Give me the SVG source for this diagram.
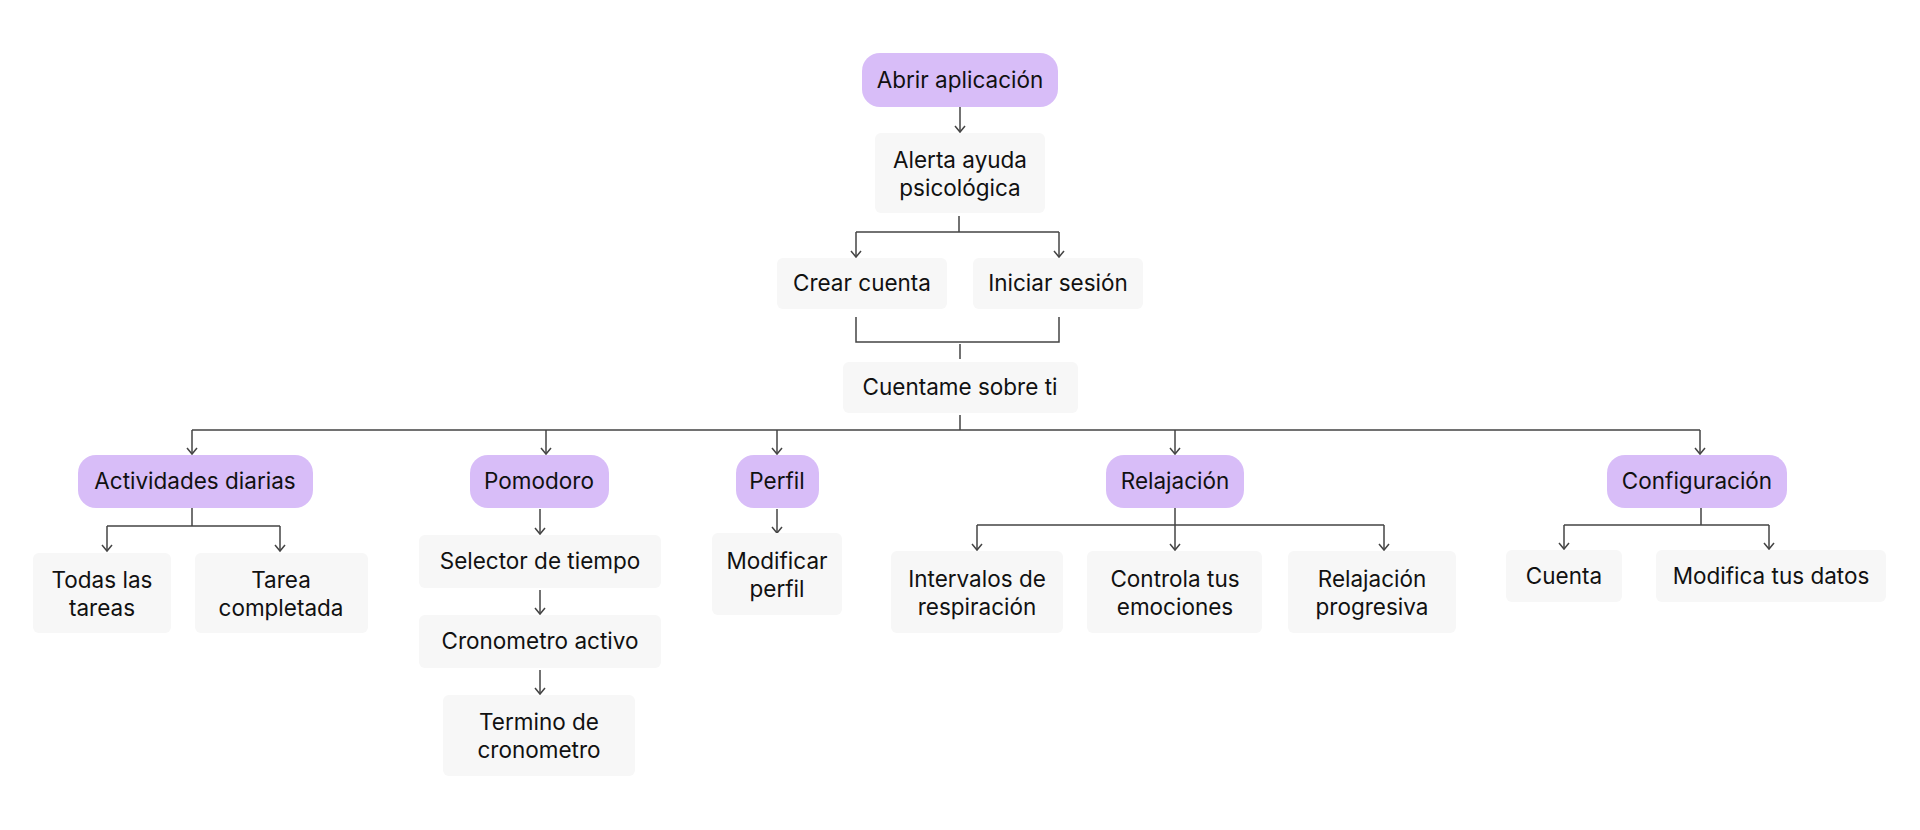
<svg xmlns="http://www.w3.org/2000/svg" width="1920" height="830" viewBox="0 0 1920 830">
<defs>
<style>
.p{fill:#D8BDF8}
.g{fill:#F7F7F7}
.t{font-family:Inter,"Liberation Sans",sans-serif;font-size:22.5px;fill:#111;text-anchor:middle}
.c{fill:none;stroke:#444;stroke-width:1.5}
</style>
<marker id="a" markerUnits="userSpaceOnUse" markerWidth="10" markerHeight="12" refX="7" refY="6" orient="auto" viewBox="0 0 10 12">
<path d="M1,1 L7,6 L1,11" fill="none" stroke="#444" stroke-width="1.5"/>
</marker>
</defs>
<rect width="1920" height="830" fill="#fff"/>
<g id="connectors">
<path class="c" d="M960,107 V132" marker-end="url(#a)"/>
<path class="c" d="M959,216 V232 M856,232 H1059"/>
<path class="c" d="M856,232 V257" marker-end="url(#a)"/>
<path class="c" d="M1059,232 V257" marker-end="url(#a)"/>
<path class="c" d="M856,317 V342 H1059 V317 M960,344 V359"/>
<path class="c" d="M960,415 V430 M192,430 H1700"/>
<path class="c" d="M192,430 V454" marker-end="url(#a)"/>
<path class="c" d="M546,430 V454" marker-end="url(#a)"/>
<path class="c" d="M777,430 V454" marker-end="url(#a)"/>
<path class="c" d="M1175,430 V454" marker-end="url(#a)"/>
<path class="c" d="M1700,430 V454" marker-end="url(#a)"/>
<path class="c" d="M192,508 V526 M107,526 H280"/>
<path class="c" d="M107,526 V551" marker-end="url(#a)"/>
<path class="c" d="M280,526 V551" marker-end="url(#a)"/>
<path class="c" d="M540,509 V534" marker-end="url(#a)"/>
<path class="c" d="M540,590 V614" marker-end="url(#a)"/>
<path class="c" d="M540,670 V694" marker-end="url(#a)"/>
<path class="c" d="M777,509 V533" marker-end="url(#a)"/>
<path class="c" d="M1175,508 V525 M977,525 H1384"/>
<path class="c" d="M977,525 V550" marker-end="url(#a)"/>
<path class="c" d="M1175,525 V550" marker-end="url(#a)"/>
<path class="c" d="M1384,525 V550" marker-end="url(#a)"/>
<path class="c" d="M1701,508 V525 M1564,525 H1769"/>
<path class="c" d="M1564,525 V549" marker-end="url(#a)"/>
<path class="c" d="M1769,525 V549" marker-end="url(#a)"/>
</g>
<g id="n1"><rect class="p" x="862" y="53" width="196" height="54" rx="18"/><text class="t" x="960" y="88">Abrir aplicación</text></g>
<g id="n2"><rect class="g" x="875" y="133" width="170" height="80" rx="6"/><text class="t" x="960" y="168">Alerta ayuda</text><text class="t" x="960" y="196">psicológica</text></g>
<g id="n3"><rect class="g" x="777" y="258" width="170" height="51" rx="6"/><text class="t" x="862" y="291">Crear cuenta</text></g>
<g id="n4"><rect class="g" x="973" y="258" width="170" height="51" rx="6"/><text class="t" x="1058" y="291">Iniciar sesión</text></g>
<g id="n5"><rect class="g" x="843" y="362" width="235" height="51" rx="6"/><text class="t" x="960" y="395">Cuentame sobre ti</text></g>
<g id="n6"><rect class="p" x="78" y="455" width="235" height="53" rx="18"/><text class="t" x="195" y="489">Actividades diarias</text></g>
<g id="n7"><rect class="p" x="470" y="455" width="139" height="53" rx="18"/><text class="t" x="539" y="489">Pomodoro</text></g>
<g id="n8"><rect class="p" x="736" y="455" width="83" height="53" rx="18"/><text class="t" x="777" y="489">Perfil</text></g>
<g id="n9"><rect class="p" x="1106" y="455" width="138" height="53" rx="18"/><text class="t" x="1175" y="489">Relajación</text></g>
<g id="n10"><rect class="p" x="1607" y="455" width="180" height="53" rx="18"/><text class="t" x="1697" y="489">Configuración</text></g>
<g id="n11"><rect class="g" x="33" y="553" width="138" height="80" rx="6"/><text class="t" x="102" y="588">Todas las</text><text class="t" x="102" y="616">tareas</text></g>
<g id="n12"><rect class="g" x="195" y="553" width="173" height="80" rx="6"/><text class="t" x="281" y="588">Tarea</text><text class="t" x="281" y="616">completada</text></g>
<g id="n13"><rect class="g" x="419" y="535" width="242" height="53" rx="6"/><text class="t" x="540" y="569">Selector de tiempo</text></g>
<g id="n14"><rect class="g" x="419" y="615" width="242" height="53" rx="6"/><text class="t" x="540" y="649">Cronometro activo</text></g>
<g id="n15"><rect class="g" x="443" y="695" width="192" height="81" rx="6"/><text class="t" x="539" y="730">Termino de</text><text class="t" x="539" y="758">cronometro</text></g>
<g id="n16"><rect class="g" x="712" y="533" width="130" height="82" rx="6"/><text class="t" x="777" y="569">Modificar</text><text class="t" x="777" y="597">perfil</text></g>
<g id="n17"><rect class="g" x="891" y="551" width="172" height="82" rx="6"/><text class="t" x="977" y="587">Intervalos de</text><text class="t" x="977" y="615">respiración</text></g>
<g id="n18"><rect class="g" x="1087" y="551" width="175" height="82" rx="6"/><text class="t" x="1175" y="587">Controla tus</text><text class="t" x="1175" y="615">emociones</text></g>
<g id="n19"><rect class="g" x="1288" y="551" width="168" height="82" rx="6"/><text class="t" x="1372" y="587">Relajación</text><text class="t" x="1372" y="615">progresiva</text></g>
<g id="n20"><rect class="g" x="1506" y="550" width="116" height="52" rx="6"/><text class="t" x="1564" y="584">Cuenta</text></g>
<g id="n21"><rect class="g" x="1656" y="550" width="230" height="52" rx="6"/><text class="t" x="1771" y="584">Modifica tus datos</text></g>
</svg>
